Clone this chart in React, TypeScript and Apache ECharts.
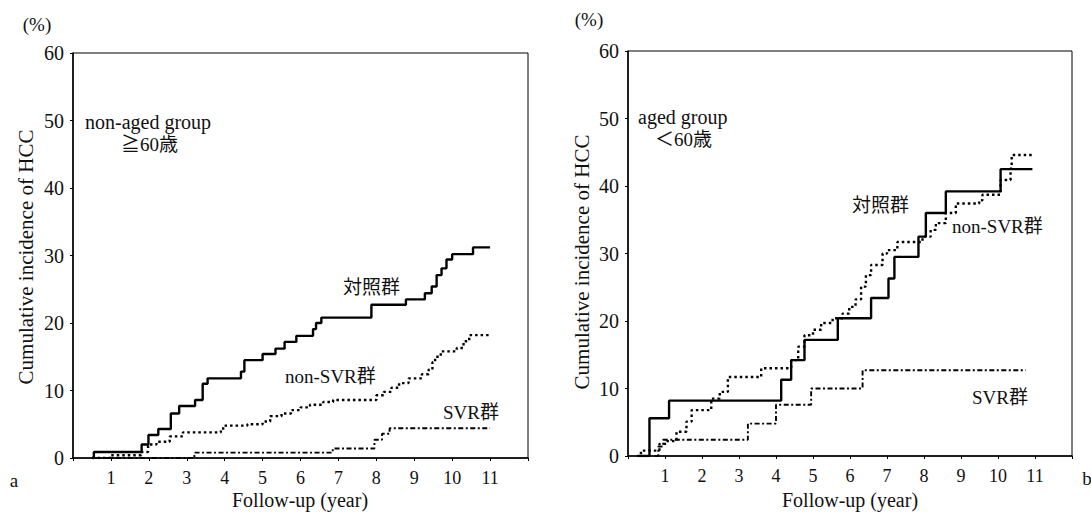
import React, { useEffect, useRef } from "react";
import * as echarts from "echarts";

// ---- Data ----
// Panel a: non-aged group (>=60)
const aControl: [number, number][] = [
  [0.5, 0], [0.55, 0.9], [1.81, 2.0], [1.99, 3.4], [2.25, 4.3], [2.58, 6.6], [2.8, 7.7],
  [3.22, 8.6], [3.42, 11.0], [3.55, 11.8], [4.43, 12.8], [4.52, 14.5], [5.0, 15.4],
  [5.34, 16.2], [5.58, 17.2], [5.89, 18.1], [6.33, 19.1], [6.41, 20.0], [6.55, 20.8],
  [7.87, 22.7], [8.78, 23.5], [9.28, 24.4], [9.46, 25.4], [9.59, 27.1], [9.72, 28.1],
  [9.85, 29.4], [10.0, 30.2], [10.55, 31.2], [11.0, 31.2],
];
const aNonSVR: [number, number][] = [
  [0.5, 0], [1.0, 0.4], [1.8, 0.9], [1.98, 2.0], [2.2, 2.4], [2.55, 3.2], [2.9, 3.8],
  [3.9, 4.1], [3.96, 4.8], [4.6, 5.0], [5.0, 5.4], [5.2, 6.2], [5.5, 6.6], [5.75, 7.1],
  [6.0, 7.5], [6.25, 7.9], [6.6, 8.3], [6.86, 8.6], [8.0, 9.3], [8.2, 9.8], [8.4, 10.4],
  [8.6, 11.1], [8.85, 11.8], [9.2, 12.4], [9.38, 13.1], [9.48, 14.2], [9.55, 15.0],
  [9.7, 15.8], [10.12, 16.3], [10.3, 17.3], [10.45, 18.2], [11.0, 18.2],
];
const aSVR: [number, number][] = [
  [0.5, 0], [3.2, 0.8], [6.85, 1.4], [7.95, 2.7], [8.15, 3.6], [8.35, 4.4], [11.0, 4.4],
];
// Panel b: aged group (<60)
const bControl: [number, number][] = [
  [0.32, 0], [0.58, 5.6], [1.11, 8.2], [4.14, 11.3], [4.41, 14.2], [4.77, 17.2],
  [5.67, 20.4], [6.57, 23.4], [7.04, 26.3], [7.2, 29.5], [7.85, 32.5], [8.05, 36.0],
  [8.59, 39.2], [10.07, 42.5], [10.93, 42.5],
];
const bNonSVR: [number, number][] = [
  [0.25, 0], [0.35, 0.8], [0.85, 1.8], [1.05, 2.2], [1.31, 3.6], [1.58, 5.1], [1.72, 6.8],
  [2.25, 8.5], [2.48, 9.5], [2.7, 11.7], [3.6, 13.0], [4.41, 14.2], [4.6, 16.2],
  [4.77, 17.9], [5.0, 18.7], [5.22, 19.7], [5.53, 20.4], [5.8, 21.1], [5.98, 22.1],
  [6.15, 23.2], [6.3, 25.1], [6.43, 26.8], [6.57, 28.3], [6.88, 30.0], [7.0, 30.5],
  [7.28, 31.7], [7.96, 32.5], [8.18, 33.5], [8.32, 34.5], [8.59, 36.0], [8.86, 37.4],
  [9.49, 37.9], [9.58, 38.7], [10.07, 40.9], [10.34, 42.6], [10.37, 44.6], [10.93, 44.6],
];
const bSVR: [number, number][] = [
  [0.73, 0], [0.82, 1.4], [0.95, 2.4], [3.24, 4.8], [4.0, 7.6], [4.95, 10.0],
  [6.34, 12.7], [10.75, 12.7],
];

const xTickLabels = ["1", "2", "3", "4", "5", "6", "7", "8", "9", "10", "11"];
const yTickLabels = ["0", "10", "20", "30", "40", "50", "60"];

const SERIF = "Liberation Serif, Times New Roman, DejaVu Serif, Noto Sans CJK JP, serif";

export default function App() {
  const ref = useRef<HTMLDivElement>(null);
  useEffect(() => {
    document.body.style.margin = "0";
    if (!ref.current) return;
    const chart = echarts.init(ref.current, undefined, { renderer: "svg" });

    const xAxis = (gi: number) => ({
      type: "value",
      gridIndex: gi,
      min: 0,
      max: 12,
      interval: 1,
      axisLine: { show: true, lineStyle: { color: "#000", width: 1.5 } },
      axisTick: { show: true, inside: false, length: 3, lineStyle: { color: "#000" } },
      splitLine: { show: false },
      axisLabel: {
        margin: 11,
        color: "#111",
        fontFamily: SERIF,
        fontSize: 18,
        formatter: (v: number) => (xTickLabels.includes(String(v)) ? String(v) : ""),
      },
    });
    const yAxis = (gi: number) => ({
      type: "value",
      gridIndex: gi,
      min: 0,
      max: 60,
      interval: 10,
      axisLine: { show: true, lineStyle: { color: "#000", width: 1.5 } },
      axisTick: { show: true, inside: false, length: 3, lineStyle: { color: "#000" } },
      splitLine: { show: false },
      axisLabel: {
        margin: 9,
        color: "#111",
        fontFamily: SERIF,
        fontSize: 20,
        formatter: (v: number) => (yTickLabels.includes(String(v)) ? String(v) : ""),
      },
    });

    const solid = { color: "#000", width: 2.4, type: "solid" };
    const dotted = { color: "#000", width: 2.4, type: [2.5, 3] };
    const dashdot = { color: "#000", width: 1.9, type: [5, 2.5, 2, 2.5] };

    const mk = (name: string, data: [number, number][], gi: number, ls: any) => ({
      name,
      type: "line",
      step: "end",
      xAxisIndex: gi,
      yAxisIndex: gi,
      data,
      showSymbol: false,
      symbol: "none",
      lineStyle: ls,
      silent: true,
    });

    const txt = (text: string, x: number, y: number, size: number, align = "left", rot = 0) => ({
      type: "text",
      x,
      y,
      rotation: rot,
      style: {
        text,
        fill: "#111",
        fontSize: size,
        fontFamily: SERIF,
        align,
        verticalAlign: "middle",
      },
    });

    chart.setOption({
      animation: false,
      backgroundColor: "#fff",
      grid: [
        { left: 73, top: 53, width: 455, height: 405, show: true, borderColor: "#000", borderWidth: 1, backgroundColor: "transparent" },
        { left: 628, top: 51, width: 444, height: 405, show: true, borderColor: "#000", borderWidth: 1, backgroundColor: "transparent" },
      ],
      xAxis: [xAxis(0), xAxis(1)],
      yAxis: [yAxis(0), yAxis(1)],
      series: [
        mk("対照群 a", aControl, 0, solid),
        mk("non-SVR群 a", aNonSVR, 0, dotted),
        mk("SVR群 a", aSVR, 0, dashdot),
        mk("対照群 b", bControl, 1, solid),
        mk("non-SVR群 b", bNonSVR, 1, dotted),
        mk("SVR群 b", bSVR, 1, dashdot),
      ],
      graphic: [
        txt("(%)", 37, 24, 19, "center"),
        txt("(%)", 589, 19, 19, "center"),
        txt("Cumulative incidence of HCC", 26, 257, 21, "center", Math.PI / 2),
        txt("Cumulative incidence of HCC", 582, 262, 21, "center", Math.PI / 2),
        txt("Follow-up (year)", 300, 500, 20, "center"),
        txt("Follow-up (year)", 850, 500, 20, "center"),
        txt("a", 14, 480, 19, "center"),
        txt("b", 1087, 478, 19, "center"),
        txt("non-aged group", 85, 122, 20),
        txt("≧60歳", 121, 144, 19),
        txt("aged group", 638, 117, 20),
        txt("＜60歳", 655, 139, 19),
        txt("対照群", 343, 287, 19),
        txt("non-SVR群", 285, 376, 19),
        txt("SVR群", 443, 412, 19),
        txt("対照群", 852, 205, 19),
        txt("non-SVR群", 952, 226, 19),
        txt("SVR群", 972, 397, 19),
      ],
    });
    return () => chart.dispose();
  }, []);
  return (
    <div
      ref={ref}
      style={{ position: "fixed", left: 0, top: 0, width: 1091, height: 513, background: "#fff" }}
    />
  );
}
